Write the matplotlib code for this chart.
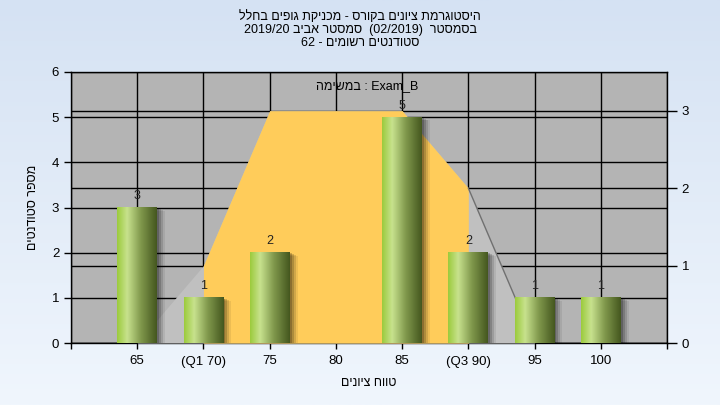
import numpy as np
import matplotlib
matplotlib.use('Agg')
import matplotlib.pyplot as plt
import matplotlib.transforms as mtransforms
from matplotlib.colors import LinearSegmentedColormap
from matplotlib.patches import Rectangle

plt.rcParams['font.family'] = ['Liberation Sans', 'DejaVu Sans']

# --- data ---
grades = [65, 70, 75, 80, 85, 90, 95, 100]
counts = [3, 1, 2, 0, 5, 2, 1, 1]
tick_labels = ['65', '(Q1 70)', '75', '80', '85', '(Q3 90)', '95', '100']

# outline of the distribution area (right axis)
area_x = [65, 70, 75, 85, 90, 95]
area_y = [0, 1, 3, 3, 2, 0]

# Hebrew strings are written in visual order (matplotlib has no bidi)
title_lines = [
    'היסטוגרמת ציונים בקורס - מכניקת גופים בחלל'[::-1],
    '2019/20 ' + 'אביב'[::-1] + ' ' + 'סמסטר'[::-1] + '  (02/2019)  ' + 'בסמסטר'[::-1],
    '62 - ' + 'רשומים'[::-1] + ' ' + 'סטודנטים'[::-1],
]
exam_label = 'במשימה'[::-1] + ' : Exam_B'
y_label = 'מספר סטודנטים'[::-1]
x_label = 'טווח ציונים'[::-1]

fig = plt.figure(figsize=(7.2, 4.05), dpi=100)

# background gradient
bg = fig.add_axes([0, 0, 1, 1], zorder=-10)
bg_cmap = LinearSegmentedColormap.from_list('bg', ['#d5e2f3', '#f0f6fd'])
bg.imshow(np.linspace(0, 1, 256).reshape(-1, 1), aspect='auto', cmap=bg_cmap,
          extent=(0, 1, 0, 1))
bg.set_axis_off()

# main axes: left scale, grid and gray background
ax = fig.add_axes([71 / 720, 62 / 405, 596 / 720, 271 / 405])
ax.set_facecolor('#b4b4b4')
ax.set_xlim(60, 105)
ax.set_ylim(0, 6)
ax.set_xticks(range(60, 110, 5))
ax.set_xticklabels([''] + tick_labels + [''], fontsize=9.5)
ax.set_yticks(range(0, 7))
ax.tick_params(axis='y', labelsize=9.5, length=5, width=1)
ax.tick_params(axis='x', length=4, width=1, pad=5)
ax.grid(True, color='black', linewidth=1)
for s in ax.spines.values():
    s.set_linewidth(1)
ax.set_ylabel(y_label, fontsize=9, labelpad=9)
ax.set_xlabel(x_label, fontsize=9, labelpad=7)

# right axis: area series
ax2 = ax.twinx()
ax2.set_ylim(0, 3.5)
ax2.set_yticks([0, 1, 2, 3])
ax2.tick_params(axis='y', labelsize=9.5, length=7, width=1)
ax2.grid(True, axis='y', color='black', linewidth=1)
ax2.set_axisbelow(True)
ax2.fill_between(area_x, area_y, color='#c0c0c0', linewidth=0, zorder=1)
ax2.fill_between(area_x[1:5], area_y[1:5], color='#ffcc5a', linewidth=0, zorder=2)
ax2.plot(area_x[4:], area_y[4:], color='#707070', linewidth=1, zorder=2)
for s in ax2.spines.values():
    s.set_visible(False)

# bars on a third axes with the left scale
ax3 = ax.twinx()
ax3.set_ylim(0, 6)
ax3.set_yticks([])
for s in ax3.spines.values():
    s.set_visible(False)

bar_cmap = LinearSegmentedColormap.from_list(
    'bar', [(0, '#9ccb3e'), (0.25, '#c8e28e'), (0.6, '#80984c'), (1, '#45581f')])
grad = np.linspace(0, 1, 64).reshape(1, -1)
bw = 3
for g, c in zip(grades, counts):
    if c == 0:
        continue
    for k, a in zip([2, 4, 6, 8], [0.2, 0.16, 0.12, 0.07]):
        tr = mtransforms.offset_copy(ax3.transData, fig=fig, x=k, y=-k * 0.4, units='dots')
        ax3.add_patch(Rectangle((g - bw / 2, 0), bw, c, transform=tr,
                                facecolor='black', alpha=a, linewidth=0, zorder=2))
    ax3.imshow(grad, extent=(g - bw / 2, g + bw / 2, 0, c), aspect='auto',
               cmap=bar_cmap, zorder=3, interpolation='bilinear')
    ax3.annotate(str(c), (g, c), xytext=(0, 4), textcoords='offset points',
                 ha='center', va='bottom', fontsize=9, color='#222222', zorder=4)
ax3.set_xlim(60, 105)
ax3.set_ylim(0, 6)

for i, line in enumerate(title_lines):
    fig.text(0.5, 1 - (17 + 13 * i) / 405, line, ha='center', va='center', fontsize=9)
fig.text(367 / 720, 1 - 86 / 405, exam_label, ha='center', va='center', fontsize=9)

plt.savefig('out.png', dpi=100)
